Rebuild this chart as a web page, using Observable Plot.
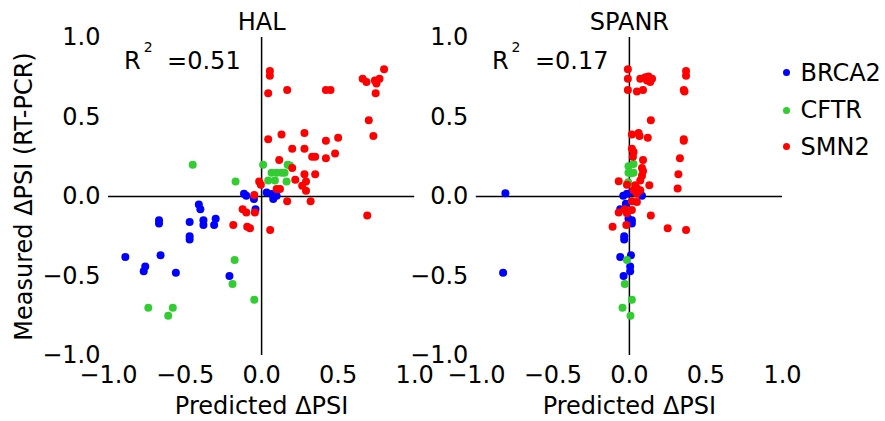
<!DOCTYPE html>
<html>
<head>
<meta charset="utf-8">
<script src="https://cdn.jsdelivr.net/npm/d3@7"></script>
<script src="https://cdn.jsdelivr.net/npm/@observablehq/plot@0.6"></script>
<style>
  html, body { margin: 0; padding: 0; background: white; }
  #wrap { position: relative; width: 885px; height: 421px; font-family: "DejaVu Sans", sans-serif; }
  #wrap svg { display: block; }
  .leg-row { position: absolute; height: 24px; line-height: 24px; font-size: 24px; color: black; white-space: nowrap; }
  .leg-dot { position: absolute; width: 7px; height: 7px; border-radius: 50%; }
</style>
</head>
<body>
<div id="wrap"></div>
<script>
// ---- data ----
const models = ["HAL", "SPANR"];
const genes = ["BRCA2", "CFTR", "SMN2"];
const geneColors = ["#0000ff", "#33cc33", "#ff0000"];
const xTicks = [-1, -0.5, 0, 0.5, 1];
const yTicks = [-1, -0.5, 0, 0.5, 1];
const r2Values = ["0.51", "0.17"];
const xLabel = "Predicted ΔPSI";
const yLabel = "Measured ΔPSI (RT-PCR)";

// [predicted, measured]
const halBRCA2 = [[-0.115,0.017],[-0.10,0.005],[-0.05,-0.016],[0.033,0.025],[0.065,0.015],[0.098,0.005],[0.076,-0.016],
  [-0.04,-0.08],[-0.41,-0.05],[-0.40,-0.08],[-0.67,-0.15],[-0.67,-0.17],[-0.47,-0.16],[-0.38,-0.15],[-0.38,-0.18],
  [-0.30,-0.14],[-0.31,-0.18],[-0.47,-0.25],[-0.47,-0.27],[-0.89,-0.38],[-0.66,-0.37],[-0.76,-0.44],[-0.77,-0.47],
  [-0.56,-0.48],[-0.21,-0.50]];
const halCFTR = [[-0.45,0.20],[-0.17,0.094],[0.01,0.20],[0.065,0.15],[0.098,0.15],[0.13,0.15],[0.15,0.15],[0.17,0.20],
  [0.185,0.195],[0.043,0.10],[0.087,0.10],[0.163,0.095],[-0.176,-0.40],[-0.19,-0.55],[-0.048,-0.65],[-0.74,-0.70],
  [-0.58,-0.70],[-0.61,-0.75]];
const halSMN2 = [[0.054,0.79],[0.054,0.76],[0.043,0.65],[0.167,0.67],[0.42,0.67],[0.45,0.67],[0.80,0.80],[0.66,0.74],
  [0.685,0.72],[0.74,0.73],[0.77,0.74],[0.75,0.71],[0.745,0.65],[0.70,0.48],[0.73,0.38],[0.043,0.36],[0.13,0.39],
  [0.28,0.40],[0.42,0.35],[0.50,0.37],[0.20,0.30],[0.28,0.30],[0.33,0.25],[0.35,0.25],[0.42,0.24],[0.48,0.27],
  [0.115,0.23],[0.20,0.18],[0.28,0.14],[0.35,0.14],[0.22,0.105],[0.29,0.095],[0.265,0.067],[0.29,0.036],
  [-0.016,0.095],[-0.005,0.074],[0.098,0.047],[0.12,0.047],[-0.048,0.01],[0.167,-0.03],[0.32,-0.03],[0.69,-0.12],
  [-0.124,-0.08],[-0.10,-0.10],[-0.044,-0.10],[-0.185,-0.18],[-0.094,-0.19],[-0.076,-0.20],[0.056,-0.21]];
const spanrBRCA2 = [[-0.81,0.02],[-0.825,-0.48],[-0.04,0.005],[-0.016,0.017],[0.016,0.027],[0.082,0.005],[-0.023,-0.046],
  [-0.06,-0.08],[-0.006,-0.14],[0.016,-0.15],[0.016,-0.17],[-0.034,-0.25],[-0.034,-0.27],[-0.06,-0.38],[0.01,-0.37],
  [0.005,-0.44],[0.005,-0.47],[-0.038,-0.50]];
const spanrCFTR = [[-0.006,0.19],[0.027,0.205],[0.01,0.147],[-0.006,0.15],[0.027,0.15],[-0.008,0.09],
  [-0.016,-0.40],[-0.03,-0.55],[0.016,-0.65],[-0.045,-0.70],[0.007,-0.75]];
const spanrSMN2 = [[-0.01,0.80],[-0.01,0.74],[-0.01,0.67],[0.071,0.74],[0.104,0.75],[0.125,0.755],[0.148,0.74],
  [0.136,0.72],[0.115,0.73],[0.049,0.66],[0.089,0.67],[0.37,0.79],[0.37,0.76],[0.355,0.67],[0.36,0.66],[0.14,0.48],
  [0.016,0.39],[0.06,0.40],[0.066,0.38],[0.12,0.37],[0.355,0.36],[0.355,0.35],[0.016,0.30],[0.027,0.28],[0.023,0.25],
  [0.089,0.23],[0.33,0.24],[0.082,0.18],[0.089,0.16],[0.32,0.14],[0.082,0.13],[0.071,0.10],[-0.07,0.096],
  [-0.016,0.074],[0.038,0.07],[0.049,0.05],[0.071,0.04],[0.13,0.07],[0.315,0.05],[0.027,0.04],[0.049,0.017],
  [0.016,-0.03],[0.049,-0.035],[-0.03,-0.08],[0.016,-0.085],[-0.07,-0.10],[-0.016,-0.105],[0.14,-0.12],
  [-0.11,-0.19],[-0.02,-0.18],[0.25,-0.20],[0.37,-0.21]];

// ---- build table ----
const series = [
  ["HAL", "BRCA2", halBRCA2], ["HAL", "CFTR", halCFTR], ["HAL", "SMN2", halSMN2],
  ["SPANR", "BRCA2", spanrBRCA2], ["SPANR", "CFTR", spanrCFTR], ["SPANR", "SMN2", spanrSMN2]
];
const rows = [];
for (const g of genes) {
  for (const [m, gene, pts] of series) {
    if (gene !== g) continue;
    for (const [x, y] of pts) rows.push({model: m, gene, x, y});
  }
}
const r2 = models.map((m, i) => ({model: m, value: r2Values[i]}));
const fmt = d3.format(".1f");

const chart = Plot.plot({
  width: 885,
  height: 421,
  marginLeft: 108,
  marginRight: 103,
  marginTop: 37,
  marginBottom: 66,
  style: {fontFamily: "DejaVu Sans", fontSize: "24px", color: "black", background: "white"},
  fx: {domain: models, axis: null, paddingInner: 0.1675, paddingOuter: 0, round: false},
  x: {domain: [-1, 1]},
  y: {domain: [-1, 1]},
  color: {domain: genes, range: geneColors},
  marks: [
    Plot.ruleX([0], {stroke: "black", strokeWidth: 1.5}),
    Plot.ruleY([0], {stroke: "black", strokeWidth: 1.5}),
    Plot.axisX(xTicks, {anchor: "bottom", tickSize: 0, tickPadding: 10, fontSize: 24, tickFormat: fmt, label: null}),
    Plot.axisY(yTicks, {anchor: "left", tickSize: 0, tickPadding: 8, fontSize: 24, tickFormat: fmt, label: null, facetAnchor: null}),
    Plot.dot(rows, {x: "x", y: "y", fx: "model", fill: "gene", r: 4, stroke: null}),
    Plot.text(models, {fx: d => d, text: d => d, frameAnchor: "top", dy: -15.5, fontSize: 24, lineAnchor: "middle"}),
    Plot.text(models, {fx: d => d, text: () => xLabel, frameAnchor: "bottom", dy: 51, fontSize: 24, lineAnchor: "middle"}),
    Plot.text([yLabel], {fx: () => "HAL", text: d => d, frameAnchor: "left", rotate: -90, dx: -84, fontSize: 24, textAnchor: "middle", lineAnchor: "middle"}),
    Plot.text(r2, {fx: "model", text: () => "R", frameAnchor: "top-left", dx: 15.6, dy: 24, fontSize: 24, textAnchor: "start", lineAnchor: "middle"}),
    Plot.text(r2, {fx: "model", text: () => "2", frameAnchor: "top-left", dx: 35.2, dy: 10, fontSize: 14, textAnchor: "start", lineAnchor: "middle"}),
    Plot.text(r2, {fx: "model", text: d => "=" + d.value, frameAnchor: "top-left", dx: 58.6, dy: 24, fontSize: 24, textAnchor: "start", lineAnchor: "middle"})
  ]
});

const wrap = document.getElementById("wrap");
wrap.appendChild(chart);

// legend
const legendCenters = [72.7, 110, 146.5];
genes.forEach((g, i) => {
  const dot = document.createElement("div");
  dot.className = "leg-dot";
  dot.style.background = geneColors[i];
  dot.style.left = (786 - 3.5) + "px";
  dot.style.top = (legendCenters[i] - 3.5) + "px";
  wrap.appendChild(dot);
  const row = document.createElement("div");
  row.className = "leg-row";
  row.textContent = g;
  row.style.left = "800.5px";
  row.style.top = (legendCenters[i] - 12) + "px";
  wrap.appendChild(row);
});
</script>
</body>
</html>
